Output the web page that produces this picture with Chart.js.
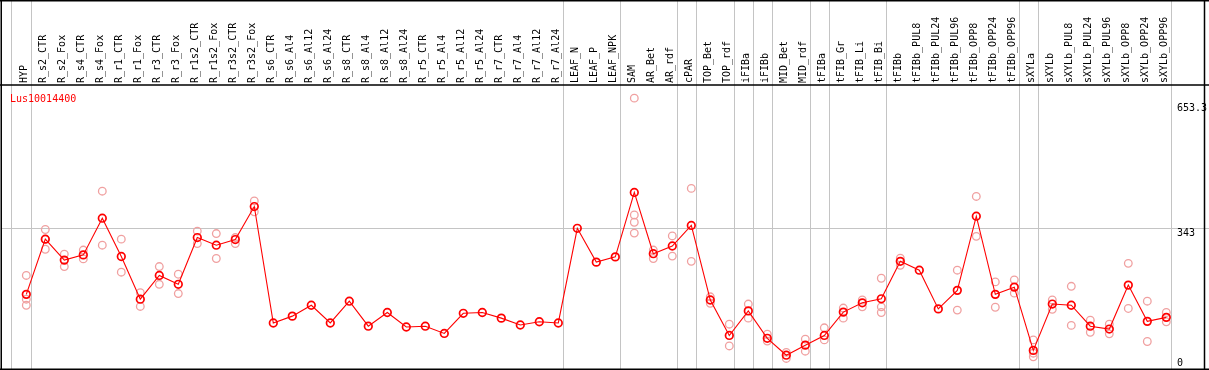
<!DOCTYPE html>
<html>
<head>
<meta charset="utf-8">
<script src="https://cdn.jsdelivr.net/npm/chart.js@4.4.1/dist/chart.umd.min.js"></script>
<style>
  html, body { margin: 0; padding: 0; background: #fff; }
  canvas { display: block; }
</style>
</head>
<body>
<canvas id="exprChart" width="1209" height="370"></canvas>
<script>
const geneName = 'Lus10014400';

const categories = [
  'HYP', 'R_s2_CTR', 'R_s2_Fox', 'R_s4_CTR', 'R_s4_Fox', 'R_r1_CTR', 'R_r1_Fox', 'R_r3_CTR', 'R_r3_Fox',
  'R_r1s2_CTR', 'R_r1s2_Fox', 'R_r3s2_CTR', 'R_r3s2_Fox', 'R_s6_CTR', 'R_s6_Al4', 'R_s6_Al12', 'R_s6_Al24',
  'R_s8_CTR', 'R_s8_Al4', 'R_s8_Al12', 'R_s8_Al24', 'R_r5_CTR', 'R_r5_Al4', 'R_r5_Al12', 'R_r5_Al24',
  'R_r7_CTR', 'R_r7_Al4', 'R_r7_Al12', 'R_r7_Al24', 'LEAF_N', 'LEAF_P', 'LEAF_NPK', 'SAM', 'AR_Bet', 'AR_rdf',
  'cPAR', 'TOP_Bet', 'TOP_rdf', 'iFIBa', 'iFIBb', 'MID_Bet', 'MID_rdf', 'tFIBa', 'tFIB_Gr', 'tFIB_Li', 'tFIB_Bi',
  'tFIBb', 'tFIBb_PUL8', 'tFIBb_PUL24', 'tFIBb_PUL96', 'tFIBb_OPP8', 'tFIBb_OPP24', 'tFIBb_OPP96',
  'sXYLa', 'sXYLb', 'sXYLb_PUL8', 'sXYLb_PUL24', 'sXYLb_PUL96', 'sXYLb_OPP8', 'sXYLb_OPP24', 'sXYLb_OPP96'
];

// index of the last sample in each group (grey separator after it)
const groupEnds = [0, 28, 31, 34, 35, 37, 38, 39, 41, 42, 45, 52, 53, 60];

const meanValues = [
  179, 316, 264, 277, 368, 273, 167, 226, 204, 320, 301, 315, 397,
  108, 125, 152, 108, 162, 100, 134, 98, 100, 82, 132, 134, 120, 103, 111, 108,
  343, 259, 272, 432, 280, 299, 350, 165, 77, 138, 70, 28, 53, 77, 135, 158, 168,
  261, 239, 143, 189, 373, 179, 197, 40, 155, 152, 100, 93, 202, 112, 122
];

const rep1 = [
  226, 340, 279, 289, 435, 316, 183, 248, 229, 336, 330, 320, 411,
  null, null, null, null, null, null, null, null, null, null, null, null, null, null, null, null,
  null, null, null, 666, 289, 324, 442, 173, 105, 155, 80, 35, 68, 96, 145, 165, 219,
  269, null, null, 239, 422, 210, 215, 66, 165, 199, 115, 105, 256, 162, 134
];
const rep2 = [
  167, 291, 248, 267, 301, 234, 149, 204, 181, 305, 268, 305, 384,
  null, null, null, null, null, null, null, null, null, null, null, null, null, null, null, null,
  null, null, null, 376, 268, 274, 261, 157, 51, 120, 63, 20, 38, 66, 120, 148, 148,
  251, null, null, 140, 323, 147, 182, 33, 142, 102, 85, 81, 144, 62, 111
];
const rep3 = [
  152, 316, null, null, null, null, null, null, null, null, null, null, null,
  null, null, null, null, null, null, null, null, null, null, null, null, null, null, null, null,
  null, null, null, 358, null, null, null, null, null, null, null, null, null, null, null, null, 134,
  null, null, null, null, null, null, null, 24, null, null, null, null, null, null, null
];
const rep4 = [
  null, null, null, null, null, null, null, null, null, null, null, null, null,
  null, null, null, null, null, null, null, null, null, null, null, null, null, null, null, null,
  null, null, null, 331, null, null, null, null, null, null, null, null, null, null, null, null, null,
  null, null, null, null, null, null, null, null, null, null, null, null, null, null, null
];

const yTickValues = [0, 343, 653.3];

const FONT = '10px "DejaVu Sans Mono", "Liberation Mono", monospace';
const GREY = '#c4c4c4';

const meanPoints = meanValues.map((v, i) => ({ x: i, y: v }));
const repPoints = [];
[rep1, rep2, rep3, rep4].forEach(arr => {
  arr.forEach((v, i) => { if (v !== null) repPoints.push({ x: i, y: v }); });
});

const framePlugin = {
  id: 'frame',
  beforeDatasetsDraw(chart) {
    const ctx = chart.ctx;
    const xs = chart.scales.x;
    const ys = chart.scales.y;
    const W = chart.width;
    ctx.save();
    // group separators
    ctx.strokeStyle = GREY;
    ctx.lineWidth = 1;
    const seps = [-0.82].concat(groupEnds.map(e => e + 0.23));
    seps.forEach(v => {
      const px = Math.round(xs.getPixelForValue(v)) + 0.5;
      ctx.beginPath();
      ctx.moveTo(px, 0);
      ctx.lineTo(px, 370);
      ctx.stroke();
    });
    // horizontal reference line
    const gy = Math.round(ys.getPixelForValue(343)) + 0.5;
    ctx.beginPath();
    ctx.moveTo(1, gy);
    ctx.lineTo(W, gy);
    ctx.stroke();
    ctx.restore();
  },
  afterDraw(chart) {
    const ctx = chart.ctx;
    const xs = chart.scales.x;
    const ys = chart.scales.y;
    const W = chart.width;
    ctx.save();
    // black frame
    ctx.strokeStyle = '#000';
    ctx.lineWidth = 1.5;
    ctx.beginPath();
    ctx.moveTo(0, 0.75); ctx.lineTo(W, 0.75);
    ctx.moveTo(0, 85); ctx.lineTo(W, 85);
    ctx.moveTo(0, 369.25); ctx.lineTo(W, 369.25);
    ctx.moveTo(1.25, 0); ctx.lineTo(1.25, 370);
    ctx.moveTo(1204.5, 0); ctx.lineTo(1204.5, 370);
    ctx.stroke();

    // sample labels in the header
    ctx.font = FONT;
    ctx.fillStyle = '#000';
    ctx.textAlign = 'left';
    ctx.textBaseline = 'middle';
    categories.forEach((name, i) => {
      const px = xs.getPixelForValue(i) - 1.5;
      ctx.save();
      ctx.translate(px, 83);
      ctx.rotate(-Math.PI / 2);
      ctx.fillText(name, 0, 0);
      ctx.restore();
    });

    // gene title
    ctx.fillStyle = '#ff0000';
    ctx.textBaseline = 'alphabetic';
    ctx.fillText(geneName, 10, 101.5);

    // value labels on the right
    ctx.fillStyle = '#000';
    yTickValues.forEach(v => {
      const py = ys.getPixelForValue(v);
      const ty = v === 0 ? py - 0.5 : py + 7.5;
      ctx.fillText(String(v), 1177, ty);
    });
    ctx.restore();
  }
};

const ctx = document.getElementById('exprChart').getContext('2d');

new Chart(ctx, {
  type: 'line',
  data: {
    datasets: [
      {
        label: 'mean',
        data: meanPoints,
        borderColor: '#ff0000',
        borderWidth: 1.1,
        pointStyle: 'circle',
        pointRadius: 3.8,
        pointBorderWidth: 1.7,
        pointBorderColor: '#ff0000',
        pointBackgroundColor: 'rgba(255,255,255,0)',
        tension: 0,
        order: 0
      },
      {
        label: 'replicates',
        data: repPoints,
        showLine: false,
        pointStyle: 'circle',
        pointRadius: 3.8,
        pointBorderWidth: 1.3,
        pointBorderColor: '#f0a0a0',
        pointBackgroundColor: 'rgba(255,255,255,0)',
        order: 1
      }
    ]
  },
  plugins: [framePlugin],
  options: {
    responsive: false,
    animation: false,
    devicePixelRatio: 1,
    layout: { autoPadding: false, padding: { left: 1, top: 85, right: 5, bottom: 1 } },
    plugins: {
      legend: { display: false },
      tooltip: { enabled: false },
      title: { display: false }
    },
    scales: {
      x: { type: 'linear', display: false, min: -1.3316, max: 61.984 },
      y: { type: 'linear', display: false, min: -6.2, max: 698.6 }
    }
  }
});
</script>
</body>
</html>
